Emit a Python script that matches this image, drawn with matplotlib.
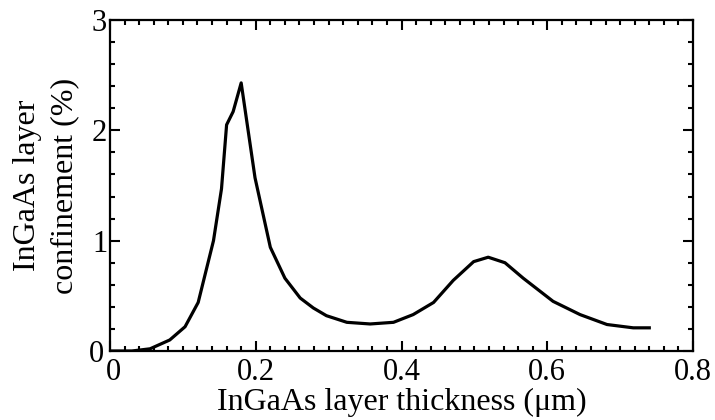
import numpy as np
import matplotlib
matplotlib.use('Agg')
import matplotlib.pyplot as plt
import matplotlib.transforms as mtransforms
from matplotlib.ticker import MultipleLocator

# InGaAs layer thickness (um) vs confinement (%)
thickness = [0.0, 0.03, 0.055, 0.082, 0.103, 0.121, 0.142, 0.153, 0.16, 0.169,
             0.18, 0.199, 0.22, 0.24, 0.261, 0.279, 0.297, 0.325, 0.357, 0.389,
             0.416, 0.444, 0.471, 0.499, 0.519, 0.542, 0.567, 0.608, 0.645,
             0.682, 0.718, 0.74]
confinement = [0.0, 0.0, 0.02, 0.10, 0.22, 0.44, 1.0, 1.47, 2.05, 2.17,
               2.43, 1.57, 0.94, 0.66, 0.48, 0.39, 0.32, 0.26, 0.245, 0.26,
               0.33, 0.44, 0.64, 0.81, 0.85, 0.80, 0.66, 0.45, 0.33,
               0.24, 0.21, 0.21]

plt.rcParams['font.family'] = ['Liberation Serif', 'DejaVu Serif']

fig = plt.figure(figsize=(7.15, 4.2), dpi=100)
ax = fig.add_axes([110/715, 1 - 351/420, (693-110)/715, (351-20)/420])

ax.plot(thickness, confinement, color='black', lw=2.3)

ax.set_xlim(0, 0.8)
ax.set_ylim(0, 3)
ax.set_xticks([0, 0.2, 0.4, 0.6, 0.8])
ax.set_xticklabels(['0', '0.2', '0.4', '0.6', '0.8'])
ax.set_yticks([0, 1, 2, 3])
ax.xaxis.set_minor_locator(MultipleLocator(0.02))
ax.yaxis.set_minor_locator(MultipleLocator(0.2))
ax.tick_params(which='both', direction='in', top=True, right=True, width=1.5,
               labelsize=22, colors='black')
ax.tick_params(which='major', length=7)
ax.tick_params(which='minor', length=3.5)
ax.tick_params(axis='x', pad=5)
ax.tick_params(axis='y', pad=2)
for s in ax.spines.values():
    s.set_linewidth(1.6)

# the two zero labels sit close together in the corner; nudge them apart a bit
fig.canvas.draw()
ax.get_xticklabels()[0].set_transform(ax.get_xticklabels()[0].get_transform() +
                                      mtransforms.ScaledTranslation(3/100, 0, fig.dpi_scale_trans))
ax.get_yticklabels()[0].set_transform(ax.get_yticklabels()[0].get_transform() +
                                      mtransforms.ScaledTranslation(-3/100, 0, fig.dpi_scale_trans))

ax.set_xlabel('InGaAs layer thickness (\u03bcm)', fontsize=23, va='baseline')
ax.xaxis.set_label_coords(0.5, -(410 - 351) / 331)
ax.set_ylabel('InGaAs layer\nconfinement (%)', fontsize=23, linespacing=1.35)
ax.yaxis.set_label_coords(-(110 - 79) / 583, 0.5)

fig.savefig('out.png', dpi=100)
